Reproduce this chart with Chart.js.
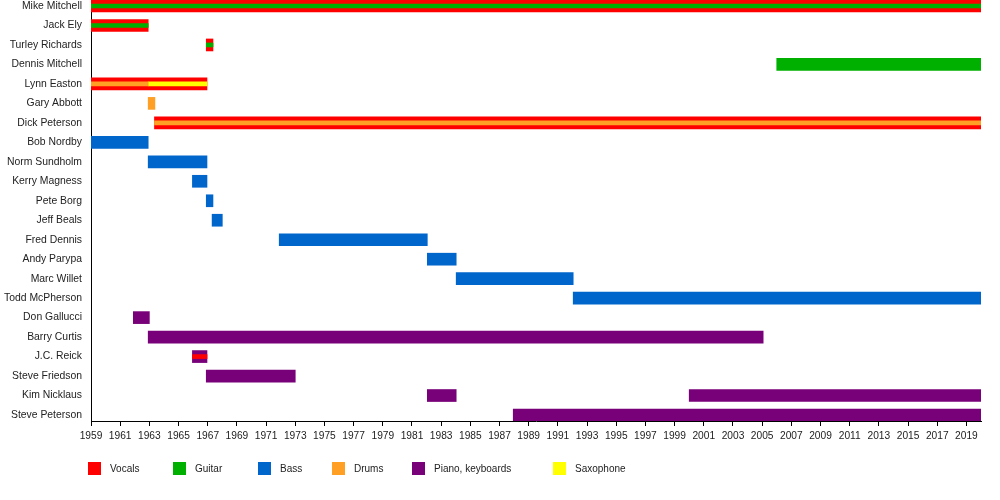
<!DOCTYPE html>
<html>
<head>
<meta charset="utf-8">
<script src="https://cdn.jsdelivr.net/npm/chart.js@4.4.1/dist/chart.umd.min.js"></script>
<style>
  body { margin: 0; background: #fff; }
  #wrap { position: relative; width: 1000px; height: 500px; }
  #legend { position: absolute; left: 0; top: 462px; width: 1000px; height: 20px;
            font: 10px "Liberation Sans", Arial, sans-serif; color: #222; }
  .item { position: absolute; top: 0; height: 13px; line-height: 13px; white-space: nowrap; }
  .box { display: inline-block; width: 13px; height: 13px; vertical-align: top; margin-right: 9px; }
</style>
</head>
<body>
<div id="wrap">
  <canvas id="myChart" width="1000" height="500"></canvas>
  <div id="legend"></div>
</div>
<script>
const members = ['Mike Mitchell', 'Jack Ely', 'Turley Richards', 'Dennis Mitchell', 'Lynn Easton',
  'Gary Abbott', 'Dick Peterson', 'Bob Nordby', 'Norm Sundholm', 'Kerry Magness', 'Pete Borg',
  'Jeff Beals', 'Fred Dennis', 'Andy Parypa', 'Marc Willet', 'Todd McPherson', 'Don Gallucci',
  'Barry Curtis', 'J.C. Reick', 'Steve Friedson', 'Kim Nicklaus', 'Steve Peterson'];

const yearTicks = [1959, 1961, 1963, 1965, 1967, 1969, 1971, 1973, 1975, 1977, 1979, 1981, 1983,
  1985, 1987, 1989, 1991, 1993, 1995, 1997, 1999, 2001, 2003, 2005, 2007, 2009, 2011, 2013,
  2015, 2017, 2019];

const instruments = ['Vocals', 'Guitar', 'Bass', 'Drums', 'Piano, keyboards', 'Saxophone'];
const colors = ['#ff0000', '#00b000', '#0066cc', '#ffa024', '#780078', '#ffff00'];

// main role of each member (full height bars)
const vocals = [['Mike Mitchell', 1959, 2020], ['Jack Ely', 1959, 1962.92], ['Turley Richards', 1966.9, 1967.36],
  ['Lynn Easton', 1959, 1966.95], ['Dick Peterson', 1963.35, 2020]];
const guitar = [['Dennis Mitchell', 2006, 2020]];
const bass = [['Bob Nordby', 1959, 1962.92], ['Norm Sundholm', 1962.92, 1966.95], ['Kerry Magness', 1965.95, 1966.95],
  ['Pete Borg', 1966.9, 1967.36], ['Jeff Beals', 1967.3, 1968], ['Fred Dennis', 1971.9, 1982.05],
  ['Andy Parypa', 1982.05, 1984.03], ['Marc Willet', 1984.03, 1992.05], ['Todd McPherson', 1992.05, 2020]];
const drums = [['Gary Abbott', 1962.92, 1963.38]];
const keys = [['Don Gallucci', 1961.9, 1963], ['Barry Curtis', 1962.92, 2005.07], ['J.C. Reick', 1965.95, 1966.95],
  ['Steve Friedson', 1966.9, 1973], ['Kim Nicklaus', 1982.05, 1984.03], ['Kim Nicklaus', 2000, 2020],
  ['Steve Peterson', 1987.94, 2020]];
const sax = [];

// second role (thin bars in the middle)
const vocals2 = [['J.C. Reick', 1965.95, 1966.95]];
const guitar2 = [['Mike Mitchell', 1959, 2020], ['Jack Ely', 1959, 1962.92], ['Turley Richards', 1966.9, 1967.36]];
const drums2 = [['Lynn Easton', 1959, 1962.92], ['Dick Peterson', 1963.35, 2020]];
const sax2 = [['Lynn Easton', 1962.92, 1966.95]];

function toBars(list) {
  return list.map(s => ({ y: members.indexOf(s[0]), x: [s[1], s[2]] }));
}

const mainRoles = [vocals, guitar, bass, drums, keys, sax];
const secondRoles = [[vocals2, 0], [guitar2, 1], [drums2, 3], [sax2, 5]];

const datasets = [];
mainRoles.forEach((list, i) => {
  datasets.push({
    label: instruments[i], data: toBars(list), backgroundColor: colors[i],
    barThickness: 12, grouped: false, order: 1
  });
});
secondRoles.forEach(([list, i]) => {
  datasets.push({
    label: instruments[i] + ' (2)', data: toBars(list), backgroundColor: colors[i],
    barThickness: 4, grouped: false, order: 0
  });
});

Chart.defaults.font.family = '"Liberation Sans", Arial, sans-serif';
Chart.defaults.font.size = 10;
Chart.defaults.color = '#222';

const ctx = document.getElementById('myChart');
new Chart(ctx, {
  type: 'bar',
  data: { datasets: datasets },
  options: {
    indexAxis: 'y',
    responsive: false,
    animation: false,
    layout: { padding: { top: 0, right: 19, left: 0, bottom: 0 } },
    plugins: { legend: { display: false }, tooltip: { enabled: false } },
    scales: {
      x: {
        type: 'linear', min: 1959, max: 2020,
        afterBuildTicks: s => { s.ticks = yearTicks.map(v => ({ value: v })); },
        afterFit: s => { s.height = 79; s.paddingLeft = 0; s.paddingRight = 0; },
        grid: { drawOnChartArea: false, drawTicks: true, tickLength: 5, color: '#000' },
        border: { display: true, color: '#000', width: 1 },
        ticks: { padding: 4, autoSkip: false, maxRotation: 0, font: { size: 10.2 }, callback: v => String(v) }
      },
      y: {
        type: 'linear', reverse: true, min: -0.308, max: 21.308, offset: false,
        afterBuildTicks: s => { s.ticks = members.map((m, i) => ({ value: i })); },
        afterFit: s => { s.width = 91; s.paddingTop = 0; s.paddingBottom = 0; },
        grid: { display: false, drawTicks: false, offset: false },
        border: { display: true, color: '#000', width: 1 },
        ticks: { padding: 9, autoSkip: false, font: { size: 10.4 }, callback: v => members[v] }
      }
    }
  }
});

// legend under the chart
const legendX = [88, 173, 258, 332, 412, 553];
const legend = document.getElementById('legend');
instruments.forEach((name, i) => {
  const el = document.createElement('div');
  el.className = 'item';
  el.style.left = legendX[i] + 'px';
  el.innerHTML = '<span class="box" style="background:' + colors[i] + '"></span>' + name;
  legend.appendChild(el);
});
</script>
</body>
</html>
